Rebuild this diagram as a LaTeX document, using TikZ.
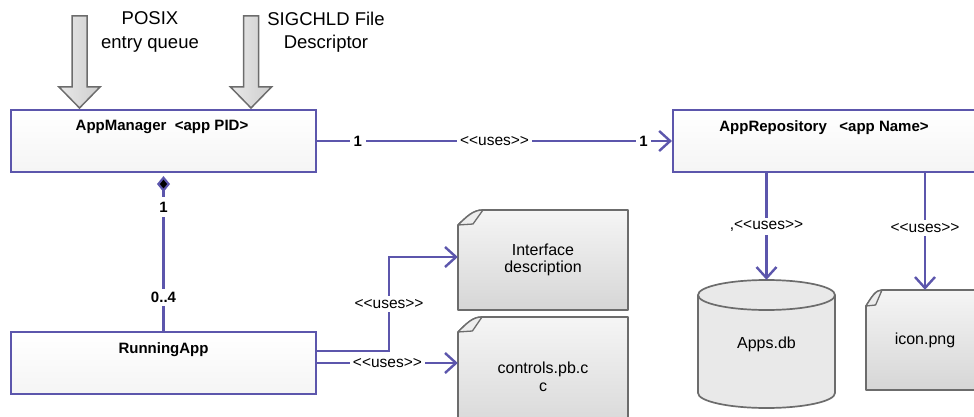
\documentclass[tikz,border=0pt]{standalone}
\usepackage{fontspec}
\setmainfont{Liberation Sans}[Ligatures=TeXOff]
\usetikzlibrary{arrows.meta}

\definecolor{umlblue}{RGB}{92,86,172}
\definecolor{shapeline}{RGB}{108,108,108}
\definecolor{docTop}{RGB}{245,245,245}
\definecolor{docBot}{RGB}{214,214,214}
\definecolor{dbfill}{RGB}{233,233,233}
\definecolor{arrowLight}{RGB}{232,232,232}
\definecolor{arrowDark}{RGB}{206,206,206}

\tikzset{
  umlbox/.style={draw=umlblue, line width=2.1pt, top color=white, bottom color=black!4, inner sep=0pt},
  boxtitle/.style={font=\fontsize{15}{18}\selectfont\bfseries, inner sep=0pt},
  assoc/.style={draw=umlblue, line width=2.1pt},
  conn/.style={assoc, -{Straight Barb[length=11pt,width=20pt,line width=2.4pt]}},
  lbl/.style={fill=white, font=\fontsize{15.5}{18}\selectfont, inner sep=3pt},
  mult/.style={fill=white, font=\fontsize{15}{18}\selectfont\bfseries, inner sep=3.5pt},
  shapetext/.style={font=\fontsize{16}{17.5}\selectfont, align=center, inner sep=0pt},
  note/.style={font=\fontsize{18.5}{23.5}\selectfont, align=center, inner sep=0pt},
  docfill/.style={draw=shapeline, line width=1.7pt, top color=docTop, bottom color=docBot, line join=round},
  foldfill/.style={draw=shapeline, line width=1.3pt, fill=white!93!black, line join=round},
  bigarrow/.style={draw=shapeline, line width=1.5pt, left color=arrowLight, right color=arrowDark, line join=miter},
}

% document sheet with a folded top-left corner:
% left, top, right, bottom, fold width, fold height
\newcommand\docsheet[6]{%
  \path[docfill] (#1,#2+#6) .. controls (#1+0.35*#5,#2+0.45*#6) and (#1+0.6*#5,#2) .. (#1+#5,#2)
    -- (#3,#2) -- (#3,#4) -- (#1,#4) -- cycle;
  \path[foldfill] (#1,#2+#6) -- (#1+0.6*#5,#2+#6-1) -- (#1+#5,#2)
    .. controls (#1+0.6*#5,#2) and (#1+0.35*#5,#2+0.45*#6) .. (#1,#2+#6) -- cycle;
}

\begin{document}
\begin{tikzpicture}[x=1pt,y=-1pt]
\useasboundingbox (0,0) rectangle (974,417);

% input arrows into the manager
\path[bigarrow] (72,16) -- (87,16) -- (87,87) -- (100,87) -- (79.5,108) -- (59,87) -- (72,87) -- cycle;
\path[bigarrow] (243.5,16) -- (258.5,16) -- (258.5,87) -- (271.5,87) -- (251,108) -- (230.5,87) -- (243.5,87) -- cycle;
\node[note] (posix) at (150,32) {POSIX\\entry queue};
\node[note] (sigchld) at (326,32) {SIGCHLD File\\Descriptor};

% classes
\node[umlbox, minimum width=305pt, minimum height=62pt] (mgr) at (163.5,141) {};
\node[boxtitle, anchor=base] (mgrT) at (162,131) {AppManager\ \ <app PID>};
\node[umlbox, minimum width=304pt, minimum height=62pt] (repo) at (825,141) {};
\node[boxtitle, anchor=base] (repoT) at (824,131.5) {AppRepository\ \ \ <app Name>};
\node[umlbox, minimum width=305pt, minimum height=62pt] (run) at (163.5,363) {};
\node[boxtitle, anchor=base] (runT) at (163.5,353) {RunningApp};

% files
\docsheet{458}{210}{628}{310}{25}{15}
\docsheet{458}{317}{628}{437}{24}{15}
\docsheet{866}{290}{990}{390}{16}{16}
\node[shapetext, minimum width=170pt, minimum height=100pt] (iface) at (543,260) {Interface\\description};
\node[shapetext, minimum width=170pt, minimum height=120pt] (ctrl) at (543,377) {controls.pb.c\\c};
\node[shapetext, minimum width=118pt, minimum height=100pt] (icon) at (925,340) {icon.png};

% database
\path[draw=shapeline, line width=1.7pt, fill=dbfill]
  (698,295) -- (698,393) arc[start angle=180, end angle=0, x radius=68.5, y radius=15]
  -- (835,295) arc[start angle=0, end angle=-180, x radius=68.5, y radius=15] -- cycle;
\draw[shapeline, line width=1.7pt] (698,295) arc[start angle=180, end angle=0, x radius=68.5, y radius=15];
\node[shapetext, minimum width=137pt, minimum height=128pt] (db) at (766.5,344) {Apps.db};

% relations
\draw[conn] (mgr.east) -- node[mult, pos=0.115] (m1) {1}
  node[lbl, pos=0.5] (u1) {<<uses>>}
  node[mult, pos=0.92] (m2) {1} (repo.west);
\draw[assoc, {Diamond[fill=black,length=16pt,width=13pt]}-] ([yshift=-3pt]mgr.south)
  -- node[mult, pos=0.2, inner ysep=5pt] (m3) {1} node[mult, pos=0.785] (m4) {0..4} (run.north);
\draw[conn] (db.north |- repo.south) -- node[lbl, pos=0.5] (u2) {,<<uses>>} (db.north);
\draw[conn] (icon.north |- repo.south) -- node[lbl, pos=0.47] (u3) {<<uses>>} (icon.north);
\draw[conn] ([yshift=12pt]run.east) -- ++(72,0) |- node[lbl, pos=0.25] (u4) {<<uses>>} ([yshift=3pt]iface.west);
\draw[conn] (run.east) -- node[lbl] (u5) {<<uses>>} (run.east -| ctrl.west);
\end{tikzpicture}
\end{document}
